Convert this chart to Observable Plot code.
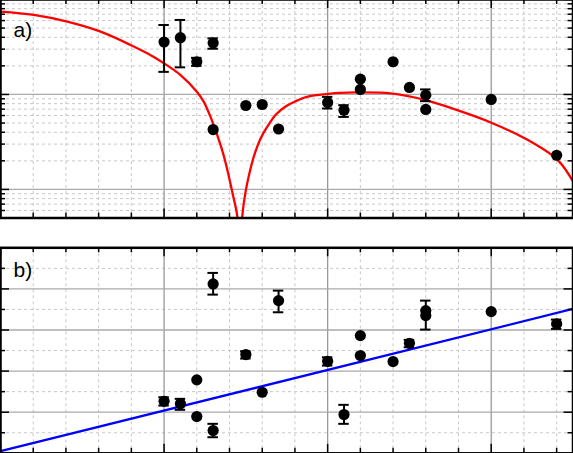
<!DOCTYPE html>
<html>
<head>
<meta charset="utf-8">
<script src="https://cdn.jsdelivr.net/npm/d3@7"></script>
<script src="https://cdn.jsdelivr.net/npm/@observablehq/plot@0.6"></script>
<style>
  html, body { margin: 0; padding: 0; background: #fff; overflow: hidden; }
  #wrap { position: relative; width: 573px; height: 453px; overflow: hidden; }
  #pa, #pb { position: absolute; left: 0; }
  #pa { top: -2px; }
  #pb { top: 245px; }
</style>
</head>
<body>
<div id="wrap"><div id="pa"></div><div id="pb"></div></div>
<script>
// ---------- data: panel a (log y) ----------
const aX  = [1.0, 1.1, 1.2, 1.3, 1.3, 1.5, 1.6, 1.7, 2.0, 2.1, 2.2, 2.2, 2.4, 2.5, 2.6, 2.6, 3.0, 3.4];
const aY  = [3.57, 3.96, 2.21, 3.48, 0.427, 0.765, 0.784, 0.433, 0.823, 0.683, 1.45, 1.129, 2.21, 1.186, 0.983, 0.695, 0.886, 0.229];
const aLo = [1.73, 1.93, 2.00, 3.03, null, null, null, null, 0.711, 0.580, null, null, null, null, 0.85, null, null, null];
const aHi = [5.39, 6.09, 2.43, 3.90, null, null, null, null, 0.943, 0.771, null, null, null, null, 1.13, null, null, null];

// red fit curve
const curveX = [0.0, 0.204, 0.408, 0.612, 0.795, 0.897, 0.999, 1.101, 1.203, 1.243, 1.284, 1.325, 1.366, 1.396, 1.423, 1.448, 1.463, 1.478, 1.498, 1.519, 1.549, 1.590, 1.633, 1.684, 1.745, 1.806, 1.867, 1.928, 1.990, 2.072, 2.182, 2.385, 2.599, 2.793, 2.997, 3.201, 3.405, 3.503];
const curveY = [7.45, 6.88, 5.84, 4.58, 3.32, 2.71, 2.13, 1.60, 1.057, 0.835, 0.580, 0.372, 0.223, 0.137, 0.0841, 0.0518, 0.01, 0.0518, 0.0937, 0.1406, 0.223, 0.343, 0.463, 0.615, 0.752, 0.850, 0.936, 0.983, 1.01, 1.04, 1.05, 1.025, 0.871, 0.683, 0.507, 0.348, 0.205, 0.119];

// ---------- data: panel b (linear y) ----------
const bX  = [1.0, 1.1, 1.2, 1.2, 1.3, 1.3, 1.5, 1.6, 1.7, 2.0, 2.1, 2.2, 2.2, 2.4, 2.5, 2.6, 2.6, 3.0, 3.4];
const bY  = [1.267, 1.204, 1.787, 0.895, 4.121, 0.554, 2.402, 1.486, 3.715, 2.239, 0.943, 2.864, 2.378, 2.232, 2.677, 3.472, 3.350, 3.448, 3.149];
const bLo = [1.162, 1.058, null, null, 3.861, 0.391, 2.305, null, 3.431, 2.135, 0.717, null, null, null, 2.58, 3.010, null, null, 3.027];
const bHi = [1.364, 1.325, null, null, 4.389, 0.717, 2.482, null, 3.958, 2.336, 1.179, null, null, null, 2.76, 3.715, null, null, 3.253];

// blue fit line
const fitX = [0, 3.5];
const fitY = [0.051, 3.513];

// ---------- ticks ----------
const xMajor = [0, 1, 2, 3];
const xMinor = [0.2, 0.4, 0.6, 0.8, 1.2, 1.4, 1.6, 1.8, 2.2, 2.4, 2.6, 2.8, 3.2, 3.4];
const aYMajor = [0.1, 1, 10];
const aYMinor = [0.06, 0.07, 0.08, 0.09, 0.2, 0.3, 0.4, 0.5, 0.6, 0.7, 0.8, 0.9, 2, 3, 4, 5, 6, 7, 8, 9];
const bYMajor = [1, 2, 3, 4];
const bYMinor = [0.5, 1.5, 2.5, 3.5, 4.5];
const labels = ["a)", "b)"];

const W = 573;
const majLen = 9, minLen = 5;
const capHalf = 0.032;

function rows(xs, ys, lo, hi) {
  return xs.map((x, i) => ({x, y: ys[i], lo: lo[i], hi: hi[i]}));
}

function panel({height, mt, mb, yopts, yMajor, yMinor, pts, lines, label, labelDy}) {
  const ml = 0, mr = 0.5;
  const iw = W - ml - mr, ih = height - mt - mb;
  const bars = pts.filter(d => d.lo != null);
  return Plot.plot({
    width: W, height,
    marginTop: mt, marginBottom: mb, marginLeft: ml, marginRight: mr,
    style: {fontFamily: "'Liberation Sans', Arial, sans-serif", background: "white", overflow: "visible"},
    x: {domain: [0, 3.5], axis: null},
    y: {...yopts, axis: null},
    marks: [
      Plot.ruleX(xMinor, {x: d => d, stroke: "#c8c8c8", strokeWidth: 1, strokeDasharray: "3,3"}),
      Plot.ruleY(yMinor, {y: d => d, stroke: "#c8c8c8", strokeWidth: 1, strokeDasharray: "3,3"}),
      Plot.ruleX(xMajor, {x: d => d, stroke: "#999", strokeWidth: 1.3}),
      Plot.ruleY(yMajor, {y: d => d, stroke: "#aaa", strokeWidth: 1.3}),
      ...lines,
      Plot.ruleX(bars, {x: "x", y1: "lo", y2: "hi", stroke: "black", strokeWidth: 2}),
      Plot.ruleY(bars, {y: "lo", x1: d => d.x - capHalf, x2: d => d.x + capHalf, stroke: "black", strokeWidth: 2}),
      Plot.ruleY(bars, {y: "hi", x1: d => d.x - capHalf, x2: d => d.x + capHalf, stroke: "black", strokeWidth: 2}),
      Plot.dot(pts, {x: "x", y: "y", r: 5.6, fill: "black", stroke: "none"}),
      // inward ticks, top & bottom
      Plot.ruleX(xMajor, {x: d => d, insetBottom: ih - majLen, stroke: "black", strokeWidth: 1.5}),
      Plot.ruleX(xMajor, {x: d => d, insetTop: ih - majLen, stroke: "black", strokeWidth: 1.5}),
      Plot.ruleX(xMinor, {x: d => d, insetBottom: ih - minLen, stroke: "black", strokeWidth: 1.5}),
      Plot.ruleX(xMinor, {x: d => d, insetTop: ih - minLen, stroke: "black", strokeWidth: 1.5}),
      // inward ticks, left & right
      Plot.ruleY(yMajor, {y: d => d, insetRight: iw - majLen, stroke: "black", strokeWidth: 1.5}),
      Plot.ruleY(yMajor, {y: d => d, insetLeft: iw - majLen, stroke: "black", strokeWidth: 1.5}),
      Plot.ruleY(yMinor, {y: d => d, insetRight: iw - minLen, stroke: "black", strokeWidth: 1.5}),
      Plot.ruleY(yMinor, {y: d => d, insetLeft: iw - minLen, stroke: "black", strokeWidth: 1.5}),
      Plot.frame({stroke: "black", strokeWidth: 2.5}),
      Plot.text([label], {text: d => d, frameAnchor: "top-left", dx: 13, dy: labelDy, lineAnchor: "top", textAnchor: "start", fontSize: 21, fill: "black"})
    ]
  });
}

const curveData = curveX.map((x, i) => ({x, y: curveY[i]}));
const fitData = fitX.map((x, i) => ({x, y: fitY[i]}));

const A = panel({
  height: 222, mt: 1, mb: 2.5,
  yopts: {type: "log", domain: [0.05, 10]},
  yMajor: aYMajor, yMinor: aYMinor,
  pts: rows(aX, aY, aLo, aHi),
  lines: [Plot.line(curveData, {x: "x", y: "y", stroke: "#ff0000", strokeWidth: 2.3, curve: "catmull-rom", clip: true})],
  label: labels[0], labelDy: 22.8
});
const B = panel({
  height: 210, mt: 2.3, mb: 2.2,
  yopts: {type: "linear", domain: [0, 5]},
  yMajor: bYMajor, yMinor: bYMinor,
  pts: rows(bX, bY, bLo, bHi),
  lines: [Plot.line(fitData, {x: "x", y: "y", stroke: "#0000ff", strokeWidth: 2.3, clip: true})],
  label: labels[1], labelDy: 13.8
});
document.getElementById("pa").appendChild(A);
document.getElementById("pb").appendChild(B);
</script>
</body>
</html>
